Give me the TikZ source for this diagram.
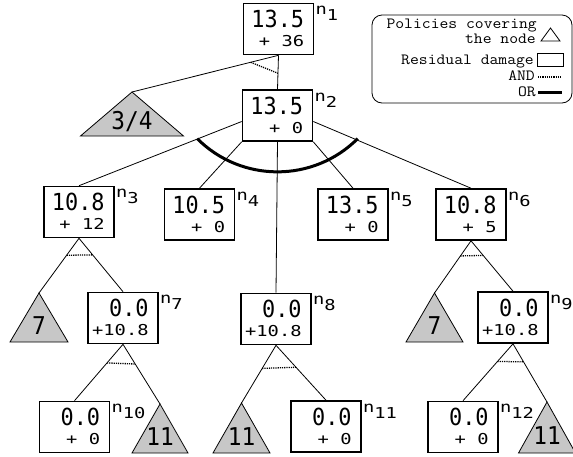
\documentclass[tikz,border=0pt]{standalone}
\usepackage{fontspec}
\usetikzlibrary{calc}
\newfontfamily\bigfont[FakeStretch=0.93]{DejaVu Sans Mono}
\newfontfamily\smallfont[FakeStretch=1.25]{DejaVu Sans Mono}
\newfontfamily\legfont[FakeStretch=1.1]{Latin Modern Mono}
\tikzset{
  dbox/.style={draw, line width=1.6pt, minimum width=70pt, minimum height=51pt, inner sep=0pt, fill=white},
  bignum/.style={inner sep=0pt, font=\fontsize{23.5}{25}\bigfont},
  trinum/.style={inner sep=0pt, font=\fontsize{24.5}{26}\bigfont},
  smallnum/.style={inner sep=0pt, font=\fontsize{15}{16}\smallfont},
  lbl/.style={inner sep=0pt, font=\fontsize{15}{16}\smallfont},
  tri/.style={draw, line width=0.8pt, fill=black!22},
  edge/.style={line width=0.8pt},
  andline/.style={dash pattern=on 1.2pt off 1pt, line width=1.3pt},
  orline/.style={line width=3pt},
  legtxt/.style={inner sep=0pt, font=\fontsize{15.6}{17}\legfont},
  legbox/.style={draw, line width=0.8pt, rounded corners=10pt, minimum width=200pt, minimum height=88pt},
}
\newcommand\dmg[5]{%
  \node[dbox] (#1) at (#2) {};
  \node[bignum, anchor=base east] (#1v) at ($(#1.north east)+(-10,25)$) {#3};
  \node[smallnum, anchor=base east] (#1r) at ($(#1.north east)+(-10,44)$) {#4};
  \node[lbl, anchor=base west] (#1l) at ($(#1.north east)+(1,12)$) {n\raisebox{-6pt}{#5}};
}
\newcommand\polt[5]{%
  \coordinate (#1) at (#2);
  \draw[tri] (#1) -- ++(-#3,#4) -- ++({2*#3},0) -- cycle;
  \node[trinum] (#1t) at ($(#1)+(0,{2/3*#4})$) {#5};
}
\begin{document}
\begin{tikzpicture}[x=1pt,y=-1pt]
\useasboundingbox (0,0) rectangle (573,456);
% damage nodes
\dmg{n1}{278.5,29}{13.5}{+~36}{1}
\dmg{n2}{277.5,115.5}{13.5}{+~0}{2}
\dmg{n3}{79,212}{10.8}{+~12}{3}
\dmg{n4}{199.5,214.5}{10.5}{+~0}{4}
\dmg{n5}{353,214.5}{13.5}{+~0}{5}
\dmg{n6}{471,214.5}{10.8}{+~5}{6}
\dmg{n7}{123,318}{0.0}{+10.8}{7}
\dmg{n8}{276,319}{0.0}{+10.8}{8}
\dmg{n9}{513,317.5}{0.0}{+10.8}{9}
\dmg{n10}{74.5,427}{0.0}{+~0}{10}
\dmg{n11}{326,426.5}{0.0}{+~0}{11}
\dmg{n12}{463,427}{0.0}{+~0}{12}
% policy triangles
\polt{t34}{132,92}{51.5}{44}{3/4}
\polt{t7a}{39,293}{29}{49}{7}
\polt{t7b}{434.5,293}{28.5}{49}{7}
\polt{t11a}{160,404}{28}{49}{11}
\polt{t11b}{241.5,403}{28.5}{50}{11}
\polt{t11c}{547,402}{28.5}{51}{11}
% edges
\draw[edge] (n1.south) -- (t34);
\draw[edge] (n1.south) -- (n2.north);
\draw[andline] ($(n1.south)!0.19!(t34)$) -- ($(n1.south)!0.53!(n2.north)$);
\draw[edge] ($(n2.west)+(0,6)$) -- (n3.north);
\draw[edge] (n2.south west) -- (n4.north);
\draw[edge] (n2.south) -- (n8.north);
\draw[edge] (n2.south east) -- (n5.north);
\draw[edge] ($(n2.east)+(0,6)$) -- (n6.north);
\draw[orline] ($(n2.south)+(-80.3,-3.2)$) arc[start angle=135, end angle=45, radius=113.5];
\draw[edge] (n3.south) -- (t7a);
\draw[edge] (n3.south) -- (n7.north);
\draw[andline] ($(n3.south)!0.31!(t7a)$) -- ($(n3.south)!0.31!(n7.north)$);
\draw[edge] (n6.south) -- (t7b);
\draw[edge] (n6.south) -- (n9.north);
\draw[andline] ($(n6.south)!0.29!(t7b)$) -- ($(n6.south)!0.29!(n9.north)$);
\draw[edge] (n7.south) -- (n10.north);
\draw[edge] (n7.south) -- (t11a);
\draw[andline] ($(n7.south)!0.33!(n10.north)$) -- ($(n7.south)!0.33!(t11a)$);
\draw[edge] (n8.south) -- (t11b);
\draw[edge] (n8.south) -- (n11.north);
\draw[andline] ($(n8.south)!0.4!(t11b)$) -- ($(n8.south)!0.4!(n11.north)$);
\draw[edge] (n9.south) -- (n12.north);
\draw[edge] (n9.south) -- (t11c);
\draw[andline] ($(n9.south)!0.31!(n12.north)$) -- ($(n9.south)!0.31!(t11c)$);
% legend
\node[legbox] (legend) at (472,59) {};
\node[legtxt, anchor=base east] (lp1) at (537,28) {Policies covering};
\node[legtxt, anchor=base east] (lp2) at (536,43) {the node};
\node[legtxt, anchor=base east] (lrd) at (534,64) {Residual damage};
\node[legtxt, anchor=base east] (land) at (535,80) {AND};
\node[legtxt, anchor=base east] (lor) at (536,96) {OR};
\coordinate (ltri) at (550.5,28);
\draw[line width=0.8pt, fill=white] (ltri) -- ++(-9.5,13) -- ++(19,0) -- cycle;
\draw[line width=0.8pt] (537,53) rectangle (563,66);
\draw[andline] (538,77) -- (562,77);
\draw[orline] (538,92) -- (562,92);
\end{tikzpicture}
\end{document}
